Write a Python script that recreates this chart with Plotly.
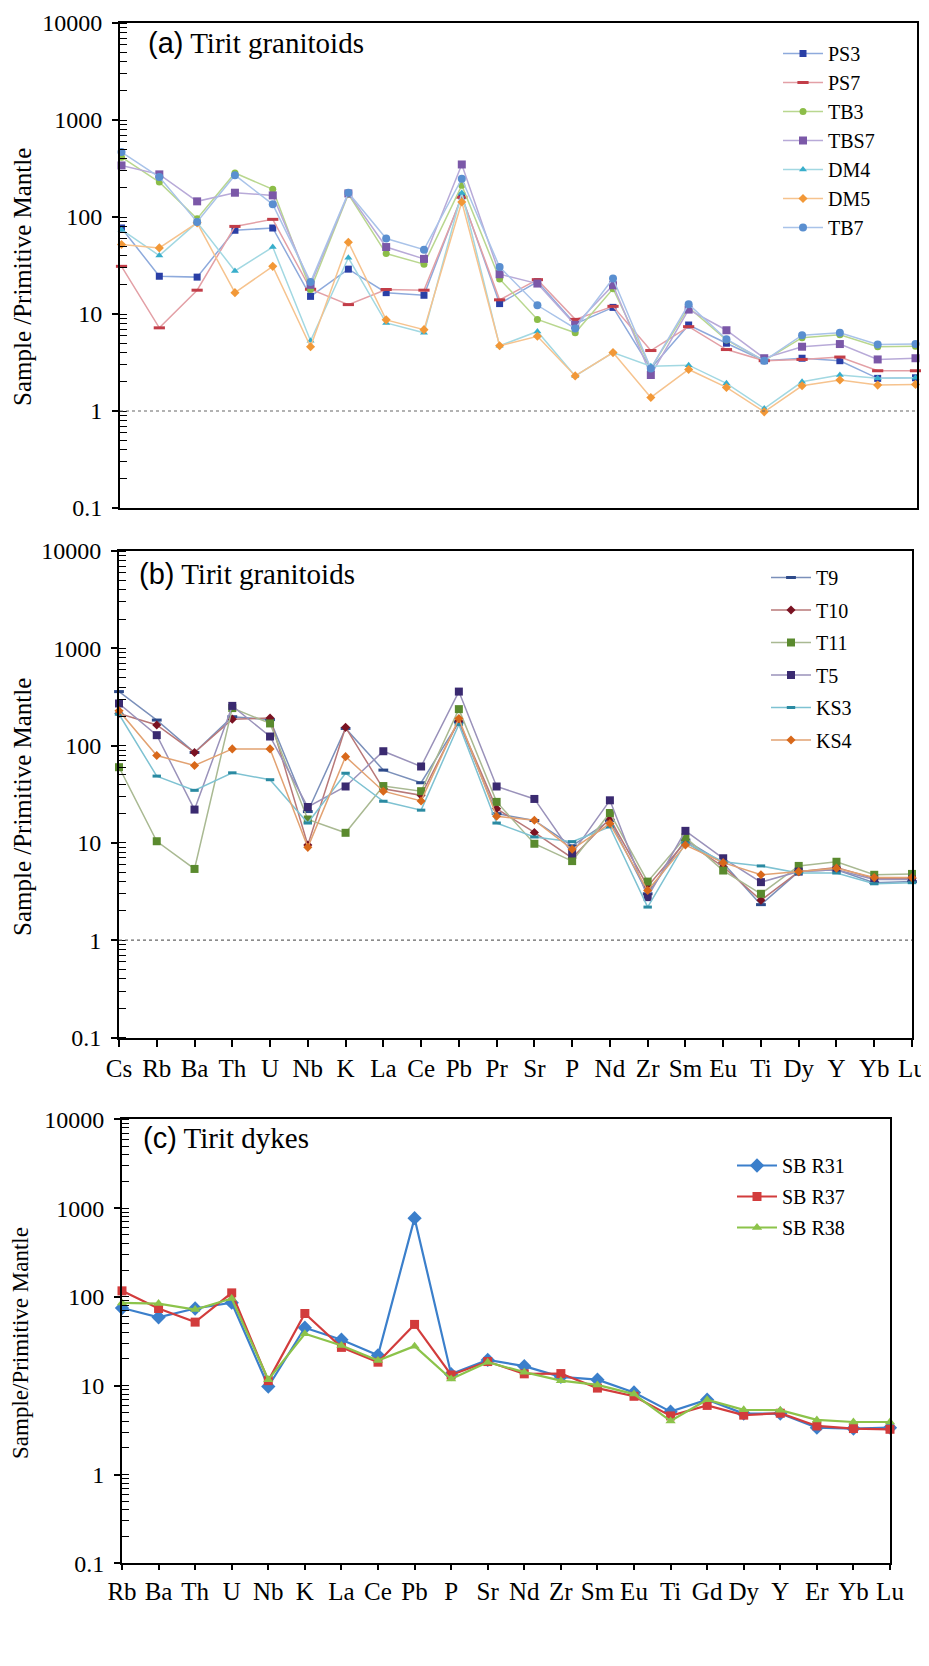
import plotly.graph_objects as go

# ---------------- data ----------------
elements_ab = ["Cs", "Rb", "Ba", "Th", "U", "Nb", "K", "La", "Ce", "Pb", "Pr",
               "Sr", "P", "Nd", "Zr", "Sm", "Eu", "Ti", "Dy", "Y", "Yb", "Lu"]
elements_c = ["Rb", "Ba", "Th", "U", "Nb", "K", "La", "Ce", "Pb", "P", "Sr",
              "Nd", "Zr", "Sm", "Eu", "Ti", "Gd", "Dy", "Y", "Er", "Yb", "Lu"]

# panel (a)
PS3 = [77, 24.5, 24, 73, 77, 15.2, 29, 16.6, 15.6, 165, 12.8, 21.5, 7.9, 11.7, 2.75, 7.7, 5.0, 3.3, 3.5, 3.3, 2.17, 2.2]
PS7 = [31, 7.2, 17.6, 80, 94.6, 18, 12.5, 17.9, 17.6, 160, 14, 22.6, 8.8, 12.0, 4.2, 7.4, 4.3, 3.3, 3.4, 3.6, 2.6, 2.6]
TB3 = [414, 229, 96, 284, 193, 17.9, 172, 42, 32.6, 212, 23, 8.8, 6.4, 18.2, 2.75, 11.7, 5.4, 3.3, 5.7, 6.1, 4.6, 4.65]
TBS7 = [340, 275, 145, 178, 167, 20, 175, 49, 37, 348, 25.7, 20.6, 7.7, 19.8, 2.35, 11.1, 6.8, 3.5, 4.6, 4.9, 3.4, 3.5]
DM4 = [74, 40, 88, 27.8, 49, 5.3, 38, 8.1, 6.4, 177, 4.7, 6.6, 2.3, 4.0, 2.9, 2.97, 1.93, 1.06, 2.0, 2.35, 2.17, 2.2]
DM5 = [52, 48, 87, 16.6, 31, 4.6, 55, 8.7, 6.9, 143, 4.7, 5.9, 2.3, 4.0, 1.38, 2.68, 1.75, 0.98, 1.82, 2.09, 1.85, 1.88]
TB7 = [467, 258, 89, 270, 135, 21.4, 178, 60, 46, 248, 30.5, 12.3, 7.1, 23.2, 2.75, 12.6, 5.5, 3.3, 6.05, 6.4, 4.85, 4.9]

# panel (b)
T9 = [359, 183, 85, 198, 185, 21, 150, 56, 41.5, 175, 20, 17, 9.3, 17, 3.0, 10.7, 6.2, 2.32, 5.07, 5.3, 3.9, 4.0]
T10 = [214, 163, 85, 187, 192, 9.5, 154, 36, 30.8, 180, 22.5, 12.8, 7.0, 17.8, 3.57, 10.3, 5.7, 2.57, 5.07, 5.6, 4.3, 4.3]
T11 = [60, 10.4, 5.4, 243, 169, 17.4, 12.7, 38.4, 34, 237, 26.4, 9.8, 6.5, 20.3, 4.0, 11.4, 5.2, 3.0, 5.8, 6.4, 4.7, 4.8]
T5 = [271, 128, 22, 256, 124, 23.4, 38, 87.5, 61, 359, 38, 28.3, 7.8, 27.4, 2.77, 13.3, 6.95, 3.95, 5.07, 5.3, 4.2, 4.2]
KS3 = [210, 48.6, 34.7, 52.5, 44.6, 16, 52, 26.8, 21.7, 165, 16, 11.5, 10.3, 14.6, 2.19, 10, 6.4, 5.8, 4.9, 4.9, 3.8, 3.9]
KS4 = [228, 79, 62.5, 92.5, 92.5, 9.0, 77, 34, 27, 190, 18.8, 17.1, 8.6, 15.8, 3.24, 9.5, 6.27, 4.7, 5.07, 5.5, 4.4, 4.4]

# panel (c)
SBR31 = [75, 59, 74, 86, 9.8, 45, 33, 22, 771, 13.5, 19.5, 16.6, 12.6, 11.7, 8.4, 5.1, 6.95, 4.86, 4.86, 3.37, 3.29, 3.37]
SBR37 = [117, 74, 52, 111, 11.4, 65, 27, 18.4, 49, 13.2, 18.7, 13.6, 13.7, 9.4, 7.6, 4.57, 6.0, 4.66, 4.9, 3.52, 3.29, 3.23]
SBR38 = [85.5, 84, 72, 96, 11.7, 38.5, 28.4, 19.2, 27.9, 11.9, 18.4, 14.2, 11.4, 10.2, 8.05, 4.0, 6.95, 5.35, 5.3, 4.12, 3.9, 3.9]

y_tickvals = [0.1, 1, 10, 100, 1000, 10000]
y_ticktext = ["0.1", "1", "10", "100", "1000", "10000"]

# ---------------- layout helpers ----------------
W, H = 929, 1666
OFF = 8  # page body margin
SERIF = "Liberation Serif"
SANS = "Liberation Sans"


def px_x(p):
    return (p - OFF) / W


def px_y(p):
    return 1 - (p - OFF) / H


fig = go.Figure()

series_a = [
    ("PS3", PS3, "#8eaadc", "#2a3fa6", "square", 7),
    ("PS7", PS7, "#e3a0a6", "#c23d48", "line-ew", 8),
    ("TB3", TB3, "#b9d78f", "#8cbd48", "circle", 7),
    ("TBS7", TBS7, "#b8aad8", "#7b58a8", "square", 8),
    ("DM4", DM4, "#a2d8e2", "#38aecb", "triangle-up", 7),
    ("DM5", DM5, "#f6c38e", "#f29837", "diamond", 7),
    ("TB7", TB7, "#a9c3e9", "#5a8fd0", "circle", 8),
]
series_b = [
    ("T9", T9, "#7b90ba", "#2d4a8a", "line-ew", 7),
    ("T10", T10, "#b87878", "#7a1222", "diamond", 7),
    ("T11", T11, "#a9b992", "#5a8a2e", "square", 8),
    ("T5", T5, "#9a92ba", "#3a2a70", "square", 8),
    ("KS3", KS3, "#7ec2d2", "#2a8aa2", "line-ew", 6),
    ("KS4", KS4, "#e2a272", "#d8681a", "diamond", 7),
]
series_c = [
    ("SB R31", SBR31, "#3b7fcb", "#3b7fcb", "diamond", 11),
    ("SB R37", SBR37, "#d23c3c", "#d23c3c", "square", 9),
    ("SB R38", SBR38, "#8cc34a", "#8cc34a", "triangle-up", 9),
]


def add_series(series, cats, xa, ya, legend, lw, tag):
    for name, vals, lc, mc, sym, ms in series:
        mk = dict(color=mc, symbol=sym, size=ms)
        if sym == "line-ew":
            mk["line"] = dict(color=mc, width=3)
        fig.add_trace(go.Scatter(
            x=cats, y=vals, name=name, mode="lines+markers",
            line=dict(color=lc, width=lw), marker=mk,
            xaxis=xa, yaxis=ya, legend=legend, cliponaxis=False,
            legendgroup=tag + name,
        ))


add_series(series_a, elements_ab, "x", "y", "legend", 1.5, "a")
add_series(series_b, elements_ab, "x2", "y2", "legend2", 1.5, "b")
add_series(series_c, elements_c, "x3", "y3", "legend3", 2.2, "c")

ytickfont = dict(family=SERIF, size=24, color="black")
xtickfont = dict(family=SERIF, size=25, color="black")


def yaxis_def(top, bottom, anchor):
    return dict(
        type="log", range=[-1, 4], domain=[px_y(bottom), px_y(top)], anchor=anchor,
        tickvals=y_tickvals, ticktext=y_ticktext, tickfont=ytickfont,
        ticks="outside", ticklen=6, tickwidth=1.5, tickcolor="black",
        ticklabelstandoff=5,
        minor=dict(ticks="inside", ticklen=7, tickwidth=1, tickcolor="black", dtick="D1"),
        showline=True, linewidth=2, linecolor="black", mirror=True,
        showgrid=False, zeroline=False, automargin=False,
    )


def xaxis_def(left, right, rng, labels, anchor, tlen=7):
    d = dict(
        type="category", domain=[px_x(left), px_x(right)], range=rng,
        showline=True, linewidth=2, linecolor="black", mirror=True,
        showgrid=False, zeroline=False, anchor=anchor, automargin=False,
        tickfont=xtickfont,
    )
    if labels:
        d.update(ticks="outside", ticklen=tlen, tickwidth=1.5, tickcolor="black",
                 showticklabels=True)
    else:
        d.update(ticks="", showticklabels=False)
    return d


def legend_def(xp, yp, size, gap):
    return dict(x=px_x(xp), y=px_y(yp), xanchor="left", yanchor="top",
                font=dict(family=SERIF, size=size, color="black"),
                bgcolor="rgba(0,0,0,0)", itemwidth=40, tracegroupgap=gap)


fig.update_layout(
    width=W, height=H,
    margin=dict(l=0, r=0, t=0, b=0, pad=0, autoexpand=False),
    paper_bgcolor="white", plot_bgcolor="white",
    font=dict(family=SERIF, color="black"),
    xaxis=xaxis_def(120, 917, [-0.04, 21.04], False, "y"),
    yaxis=yaxis_def(23, 508, "x"),
    xaxis2=xaxis_def(119, 912, [0, 21], True, "y2"),
    yaxis2=yaxis_def(551, 1037.5, "x2"),
    xaxis3=xaxis_def(122, 890, [0, 21], True, "y3", tlen=5),
    yaxis3=yaxis_def(1119.3, 1563.3, "x3"),
    legend=legend_def(778, 34, 20, 0),
    legend2=legend_def(766, 558, 20, 3.5),
    legend3=legend_def(732, 1146, 20, 2),
)

# dotted reference line at 1
for xa, ya in (("x", "y"), ("x2", "y2")):
    fig.add_shape(type="line", xref=f"{xa} domain", yref=ya, x0=0, x1=1, y0=1, y1=1,
                  line=dict(color="#666666", width=1.2, dash="dot"))

# panel titles
titles = [("(a)", " Tirit granitoids", 146, 43), ("(b)", " Tirit granitoids", 137, 574),
          ("(c)", " Tirit dykes", 141, 1138)]
for tag, txt, xp, yp in titles:
    fig.add_annotation(text=f"<span style='font-family:{SANS}'>{tag}</span>{txt}",
                       x=px_x(xp), y=px_y(yp), xref="paper", yref="paper",
                       xanchor="left", yanchor="middle", showarrow=False,
                       font=dict(family=SERIF, size=29, color="black"))

# y-axis titles
ytitles = [("Sample /Primitive Mantle", 22, 277, 25), ("Sample /Primitive Mantle", 22, 807, 25),
           ("Sample/Primitive Mantle", 20, 1343, 23)]
for txt, xp, yp, fs in ytitles:
    fig.add_annotation(text=txt, x=px_x(xp), y=px_y(yp), xref="paper", yref="paper",
                       xanchor="center", yanchor="middle", showarrow=False, textangle=-90,
                       font=dict(family=SERIF, size=fs, color="black"))

fig.write_html("out.html")
